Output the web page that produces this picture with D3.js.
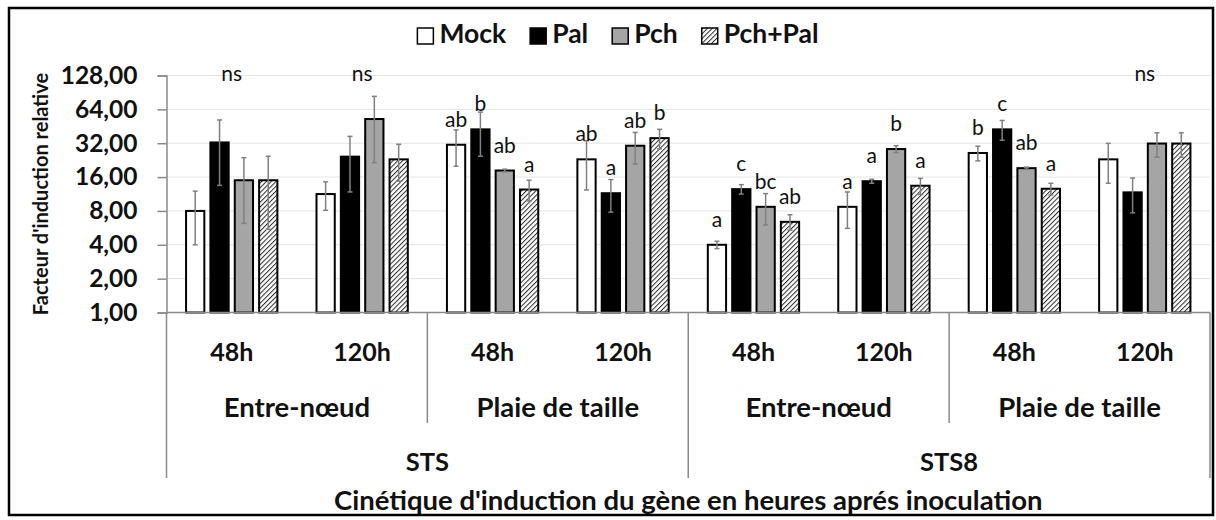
<!DOCTYPE html>
<html>
<head>
<meta charset="utf-8">
<script src="https://cdn.jsdelivr.net/npm/d3@7"></script>
<style>
  body { margin: 0; background: #fff; }
  svg { display: block; }
  text { font-family: Lato, "Open Sans", sans-serif; fill: #111; }
</style>
</head>
<body>
<svg id="chart" width="1216" height="520"></svg>
<script>
// ---- data -------------------------------------------------------------
const genes = ["STS", "STS8"];
const tissues = ["Entre-nœud", "Plaie de taille"];
const times = ["48h", "120h"];
const series = ["Mock", "Pal", "Pch", "Pch+Pal"];

// relative induction factor, one value per gene × tissue × time group
const mockValues   = [8.0, 11.3, 31.0, 23.0, 4.0, 8.7, 26.2, 23.0];
const palValues    = [32.5, 24.3, 42.5, 11.5, 12.5, 14.7, 42.5, 11.7];
const pchValues    = [15.0, 52.5, 18.3, 30.4, 8.7, 28.4, 19.2, 31.8];
const pchPalValues = [15.0, 23.0, 12.4, 35.5, 6.4, 13.4, 12.6, 31.8];

// standard deviations
const mockErrors   = [4.0, 3.2, 11.0, 10.7, 0.3, 3.1, 3.9, 8.9];
const palErrors    = [19.0, 12.5, 18.0, 3.7, 1.2, 0.6, 8.5, 4.0];
const pchErrors    = [8.8, 31.0, 0.5, 9.5, 2.7, 2.0, 0.4, 7.8];
const pchPalErrors = [9.5, 8.3, 2.6, 7.0, 1.0, 2.2, 1.5, 7.8];

// statistical groups (letters) per bar, and group-wide notes
const mockLetters   = ["", "", "ab", "ab", "a", "a", "b", ""];
const palLetters    = ["", "", "b", "a", "c", "a", "c", ""];
const pchLetters    = ["", "", "ab", "ab", "bc", "b", "ab", ""];
const pchPalLetters = ["", "", "a", "b", "ab", "a", "a", ""];
const groupNotes    = ["ns", "ns", "", "", "", "", "", "ns"];

const yTickValues = [1, 2, 4, 8, 16, 32, 64, 128];
const yTitle = "Facteur d'induction relative";
const xTitle = "Cinétique d'induction du gène en heures aprés inoculation";

// ---- assembled structures ---------------------------------------------
const valuesBySeries  = { "Mock": mockValues, "Pal": palValues, "Pch": pchValues, "Pch+Pal": pchPalValues };
const errorsBySeries  = { "Mock": mockErrors, "Pal": palErrors, "Pch": pchErrors, "Pch+Pal": pchPalErrors };
const lettersBySeries = { "Mock": mockLetters, "Pal": palLetters, "Pch": pchLetters, "Pch+Pal": pchPalLetters };

const groups = [];
genes.forEach(g => tissues.forEach(t => times.forEach(h => groups.push({ gene: g, tissue: t, time: h, key: g + "|" + t + "|" + h }))));

const bars = [];
groups.forEach((grp, i) => series.forEach(s => bars.push({
  key: grp.key, series: s,
  value: valuesBySeries[s][i], error: errorsBySeries[s][i], letter: lettersBySeries[s][i]
})));

// ---- layout -------------------------------------------------------------
const svg = d3.select("#chart");
const plotLeft = 166.5, plotRight = 1210, plotTop = 75.5, plotBottom = 312.5;

const x0 = d3.scaleBand().domain(groups.map(d => d.key)).range([plotLeft, plotRight])
  .paddingInner(0.3).paddingOuter(0.15);
const x1 = d3.scaleBand().domain(series).range([0, x0.bandwidth()]).paddingInner(0.25);
const y = d3.scaleLog().base(2).domain([1, 128]).range([plotBottom, plotTop]);

const fr = d3.formatLocale({ decimal: ",", thousands: " ", grouping: [3], currency: ["", " €"] });
const fmt = fr.format(".2f");

const fills = { "Mock": "#ffffff", "Pal": "#000000", "Pch": "#a5a5a5", "Pch+Pal": "url(#hatch)" };

// hatch pattern for the combined treatment
const defs = svg.append("defs");
const pat = defs.append("pattern").attr("id", "hatch").attr("patternUnits", "userSpaceOnUse")
  .attr("width", 3.4).attr("height", 3.4).attr("patternTransform", "rotate(45)");
pat.append("rect").attr("width", 3.4).attr("height", 3.4).attr("fill", "#ffffff");
pat.append("line").attr("x1", 0).attr("y1", 0).attr("x2", 0).attr("y2", 3.4)
  .attr("stroke", "#2a2a2a").attr("stroke-width", 2);

// outer frame
svg.append("rect").attr("x", 9).attr("y", 8).attr("width", 1204).attr("height", 507)
  .attr("fill", "none").attr("stroke", "#000").attr("stroke-width", 2.5);

// gridlines
svg.append("g").selectAll("line").data(yTickValues).join("line")
  .attr("x1", plotLeft).attr("x2", plotRight)
  .attr("y1", d => y(d)).attr("y2", d => y(d))
  .attr("stroke", "#e4e4e4").attr("stroke-width", 1);

// y axis
const yAxis = svg.append("g").attr("transform", `translate(${plotLeft},0)`)
  .call(d3.axisLeft(y).tickValues(yTickValues).tickFormat(fmt).tickSize(9).tickPadding(20));
yAxis.select(".domain").attr("stroke", "#8a8a8a").attr("stroke-width", 1.5);
yAxis.selectAll(".tick line").attr("stroke", "#8a8a8a").attr("stroke-width", 1.5);
yAxis.selectAll(".tick text").attr("font-family", "Lato, sans-serif").attr("font-size", 24.5)
  .attr("font-weight", 700).attr("fill", "#111");

// y title
svg.append("text").attr("transform", `translate(41,${(plotTop + plotBottom) / 2}) rotate(-90)`)
  .attr("text-anchor", "middle").attr("dy", "0.35em")
  .attr("font-size", 20).attr("font-weight", 700).text(yTitle);

// bars
const barG = svg.append("g");
barG.selectAll("rect").data(bars).join("rect")
  .attr("x", d => x0(d.key) + x1(d.series))
  .attr("y", d => y(d.value))
  .attr("width", x1.bandwidth())
  .attr("height", d => plotBottom - y(d.value))
  .attr("fill", d => fills[d.series])
  .attr("stroke", "#000").attr("stroke-width", 2);

// error bars
const errG = svg.append("g").attr("stroke", "#808080").attr("stroke-width", 1.5);
bars.forEach(d => {
  const cx = x0(d.key) + x1(d.series) + x1.bandwidth() / 2;
  const yHi = y(d.value + d.error), yLo = y(Math.max(d.value - d.error, 1));
  errG.append("line").attr("x1", cx).attr("x2", cx).attr("y1", yHi).attr("y2", yLo);
  errG.append("line").attr("x1", cx - 2.5).attr("x2", cx + 2.5).attr("y1", yHi).attr("y2", yHi);
  errG.append("line").attr("x1", cx - 2.5).attr("x2", cx + 2.5).attr("y1", yLo).attr("y2", yLo);
});

// x axis baseline
svg.append("line").attr("x1", plotLeft).attr("x2", plotRight).attr("y1", plotBottom).attr("y2", plotBottom)
  .attr("stroke", "#8a8a8a").attr("stroke-width", 1.5);

// letters above bars
svg.append("g").selectAll("text").data(bars.filter(d => d.letter)).join("text")
  .attr("x", d => x0(d.key) + x1(d.series) + x1.bandwidth() / 2)
  .attr("y", d => y(d.value) - 18)
  .attr("text-anchor", "middle").attr("font-size", 21).attr("fill", "#222")
  .text(d => d.letter);

// group notes
svg.append("g").selectAll("text").data(groups.map((g, i) => ({ key: g.key, note: groupNotes[i] })).filter(d => d.note))
  .join("text")
  .attr("x", d => x0(d.key) + x0.bandwidth() / 2)
  .attr("y", 81)
  .attr("text-anchor", "middle").attr("font-size", 21).attr("fill", "#222")
  .text(d => d.note);

// hierarchical category axis
const halfPad = (x0.step() - x0.bandwidth()) / 2;
const boundary = i => i < groups.length ? x0(groups[i].key) - halfPad : plotRight;
const catG = svg.append("g");
const lineColor = "#8a8a8a";
d3.range(groups.length + 1).forEach(i => {
  if (i % 4 === 0) {
    catG.append("line").attr("x1", boundary(i)).attr("x2", boundary(i))
      .attr("y1", plotBottom).attr("y2", 478).attr("stroke", lineColor).attr("stroke-width", 1.5);
  } else if (i % 2 === 0) {
    catG.append("line").attr("x1", boundary(i)).attr("x2", boundary(i))
      .attr("y1", plotBottom).attr("y2", 423).attr("stroke", lineColor).attr("stroke-width", 1.5);
  }
});

// time labels
catG.selectAll("text.time").data(groups).join("text").attr("class", "time")
  .attr("x", d => x0(d.key) + x0.bandwidth() / 2).attr("y", 352).attr("dy", "0.35em")
  .attr("text-anchor", "middle").attr("font-size", 25).attr("font-weight", 700)
  .text(d => d.time);

// tissue labels
const tissueSpans = [];
genes.forEach((g, gi) => tissues.forEach((t, ti) => {
  const i = gi * 4 + ti * 2;
  tissueSpans.push({ label: t, x: (boundary(i) + boundary(i + 2)) / 2 });
}));
catG.selectAll("text.tissue").data(tissueSpans).join("text").attr("class", "tissue")
  .attr("x", d => d.x).attr("y", 407).attr("dy", "0.35em")
  .attr("text-anchor", "middle").attr("font-size", 27.5).attr("font-weight", 700)
  .text(d => d.label);

// gene labels
const geneSpans = genes.map((g, gi) => ({ label: g, x: (boundary(gi * 4) + boundary(gi * 4 + 4)) / 2 }));
catG.selectAll("text.gene").data(geneSpans).join("text").attr("class", "gene")
  .attr("x", d => d.x).attr("y", 462).attr("dy", "0.35em")
  .attr("text-anchor", "middle").attr("font-size", 25.5).attr("font-weight", 700)
  .text(d => d.label);

// x title
svg.append("text").attr("x", (plotLeft + plotRight) / 2).attr("y", 500).attr("dy", "0.35em")
  .attr("text-anchor", "middle").attr("font-size", 27.5).attr("font-weight", 700).text(xTitle);

// legend
const legend = svg.append("g");
let cursor = 0;
series.forEach(s => {
  const g = legend.append("g");
  g.append("rect").attr("x", 0).attr("y", -15).attr("width", 16).attr("height", 16)
    .attr("fill", fills[s]).attr("stroke", "#000").attr("stroke-width", 1.5);
  const t = g.append("text").attr("x", 22).attr("y", 0).attr("font-size", 26.5).attr("font-weight", 700).text(s);
  const w = 22 + t.node().getComputedTextLength();
  g.attr("transform", `translate(${cursor},0)`);
  cursor += w + 24;
});
const legendWidth = cursor - 24;
legend.attr("transform", `translate(${618 - legendWidth / 2},43)`);
</script>
</body>
</html>
